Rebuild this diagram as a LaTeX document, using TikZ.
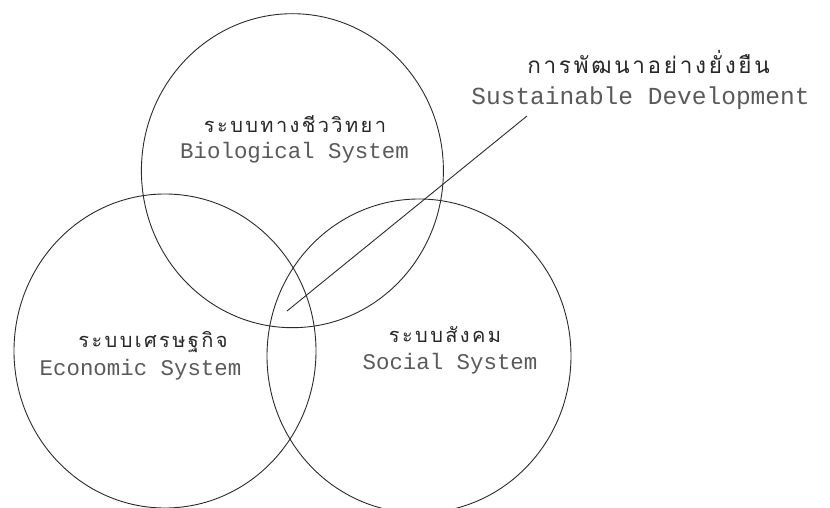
\documentclass[tikz,border=0pt]{standalone}
\usepackage{fontspec}
\setmonofont{Liberation Mono}
\newfontfamily\thaifont[Script=Thai,LetterSpace=12]{Loma}
\definecolor{linegray}{HTML}{2A2A2A}
\definecolor{textgray}{HTML}{5A5A5A}
\definecolor{thaigray}{HTML}{262626}
\begin{document}
\begin{tikzpicture}[x=1pt,y=-1pt,
  ring/.style={draw=linegray,line width=0.9pt},
  entext/.style={anchor=base,inner sep=0pt,text height=15pt,text depth=5pt,text=textgray,font=\ttfamily\fontsize{22.4}{24}\selectfont},
  bigentext/.style={anchor=base,inner sep=0pt,text height=17pt,text depth=5pt,text=textgray,font=\ttfamily\fontsize{24.5}{26}\selectfont},
  thtext/.style={anchor=base,inner sep=0pt,text depth=1pt,text=thaigray,font=\thaifont\fontsize{20}{22}\selectfont},
  bigthtext/.style={anchor=base,inner sep=0pt,text depth=1pt,text=thaigray,font=\thaifont\fontsize{22.5}{25}\selectfont},
  pointer/.style={draw=linegray,line width=0.9pt}]
\useasboundingbox (0,0) rectangle (830,508);
\begin{scope}
\clip (0,0) rectangle (830,508);
\draw[ring] (292.4,170.7) ellipse [x radius=151, y radius=157];
\draw[ring] (165,351) ellipse [x radius=151, y radius=157];
\draw[ring] (419,356) ellipse [x radius=152, y radius=157];
\end{scope}
\node[thtext] (bioth) at (295,132) {ระบบทางชีววิทยา};
\node[entext] (bioen) at (294.5,158) {Biological System};
\node[thtext] (ecoth) at (153,347) {ระบบเศรษฐกิจ};
\node[entext] (ecoen) at (140.5,375) {Economic System};
\node[thtext] (socth) at (445,342) {ระบบสังคม};
\node[entext] (socen) at (450,369) {Social System};
\node[bigthtext] (susth) at (648.5,74) {การพัฒนาอย่างยั่งยืน};
\node[bigentext] (susen) at (640.5,105) {Sustainable Development};
\coordinate (linetop) at (527,116);
\coordinate (linebot) at (287,311);
\draw[pointer] (linetop) -- (linebot);
\end{tikzpicture}
\end{document}
